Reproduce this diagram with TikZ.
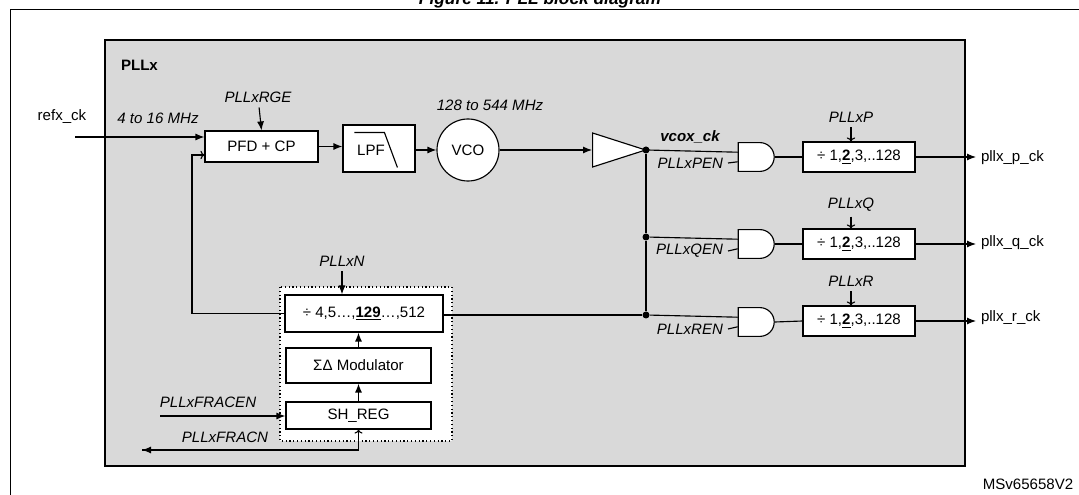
\documentclass[tikz,border=0pt]{standalone}
\usepackage{fontspec}
\setmainfont{Liberation Sans}
\usetikzlibrary{arrows.meta,shapes.geometric,shapes.gates.logic.US}
\newdimen\px \px=0.75pt
\begin{document}
\begin{tikzpicture}[x=0.75pt,y=-0.75pt,
line width=0.85pt,
font=\fontsize{11.3}{13}\selectfont,
blk/.style={draw,fill=white,inner sep=0pt},
lbl/.style={font=\fontsize{11.3}{13}\selectfont\itshape},
and/.style={and gate US,draw,fill=white,logic gate inputs=nn,minimum width=36\px,minimum height=28\px,inner sep=0pt},
dot/.style={circle,fill,inner sep=0pt,minimum size=7\px},
open/.style={-{To[length=3pt]}},
>={Latex[length=6.75pt,width=5.25pt]}
]
\useasboundingbox(0,0) rectangle (1079,495);
%% frames
\draw[line width=1\px](10,500)--(10,10)--(1090,10);
\node[font=\fontsize{13}{15}\selectfont\bfseries\itshape]at(540,0)(title){Figure 11. PLL block diagram};
\draw[line width=1.3\px,fill=black!15](105,40) rectangle (965,466);
\node[anchor=west,font=\fontsize{11.3}{13}\selectfont\bfseries]at(116,65)(pllx){PLLx};
%% reference side
\node[blk,minimum width=113\px,minimum height=31\px]at(261.5,146.5)(pfd){PFD + CP};
\node at(62,117)(refx){refx\_ck};
\coordinate(refin)at(75,137);
\draw[->](refin)--(pfd.west|-refin);
\node[lbl]at(158,118)(fin){4 to 16 MHz};
\node[lbl]at(258,97)(rge){PLLxRGE};
\draw[->](rge)--(pfd.north);
\node[blk,minimum width=72\px,minimum height=47\px]at(379,148.5)(lpf){};
\draw(lpf.west)+(12,-16)--+(42,-16)--+(55,19);
\node at(371,150){LPF};
\draw[->](pfd.east)--(lpf.west|-pfd.east);
\node[blk,circle,minimum size=62\px]at(468,150)(vco){VCO};
\draw[->](lpf.east|-vco)--(vco.west);
\node[lbl]at(490,105)(fvco){128 to 544 MHz};
\node[blk,isosceles triangle,isosceles triangle stretches,minimum width=34\px,minimum height=53\px]at(605,150)(buf){};
\draw[->](vco.east)--(buf.west);
\node[font=\fontsize{11.3}{13}\selectfont\bfseries\itshape]at(690,137)(vcox){vcox\_ck};
%% output gates and dividers
\node[and]at(755,157)(gp){};
\node[and]at(755,244)(gq){};
\node[and]at(755,322)(gr){};
\node[dot]at(646,150)(jp){};
\node[dot]at(646,237)(jq){};
\node[dot]at(646,315)(jr){};
\draw(buf.apex)--(jp)--(gp.input 1);
\draw(jp)--(jq)--(jr);
\draw(jq)--(gq.input 1);
\draw(jr)--(gr.input 1);
\node[lbl,anchor=east]at(728,163)(pen){PLLxPEN};
\node[lbl,anchor=east]at(728,251)(qen){PLLxQEN};
\node[lbl,anchor=east]at(728,329)(ren){PLLxREN};
\draw(pen.east)--(gp.input 2);
\draw(qen.east)--(gq.input 2);
\draw(ren.east)--(gr.input 2);
\node[blk,minimum width=112\px,minimum height=30\px]at(859,157)(dp){÷ 1,\underline{\textbf{2}},3,..128};
\node[blk,minimum width=112\px,minimum height=30\px]at(859,244)(dq){÷ 1,\underline{\textbf{2}},3,..128};
\node[blk,minimum width=112\px,minimum height=30\px]at(859,321)(dr){÷ 1,\underline{\textbf{2}},3,..128};
\node[lbl]at(851,117)(pp){PLLxP};
\node[lbl]at(851,205)(pq){PLLxQ};
\node[lbl]at(851,281)(pr){PLLxR};
\draw[open](pp)--(dp.north-|pp);
\draw[open](pq)--(dq.north-|pq);
\draw[open](pr)--(dr.north-|pr);
\draw(gp.output)--(dp.west);
\draw(gq.output)--(dq.west);
\draw(gr.output)--(dr.west);
\node[anchor=west]at(976,158)(op){pllx\_p\_ck};
\node[anchor=west]at(976,243)(oq){pllx\_q\_ck};
\node[anchor=west]at(976,318)(or){pllx\_r\_ck};
\draw[->](dp.east)--(op.west|-dp.east);
\draw[->](dq.east)--(oq.west|-dq.east);
\draw[->](dr.east)--(or.west|-dr.east);
%% feedback divider
\draw[dotted,fill=white](280,287) rectangle (452,441);
\node[blk,minimum width=158\px,minimum height=37\px]at(364,313.5)(ndiv){÷ 4,5…,\underline{\textbf{129}}…,512};
\node[blk,minimum width=145\px,minimum height=35\px]at(358.5,365.5)(sd){ΣΔ Modulator};
\node[blk,minimum width=145\px,minimum height=27\px]at(358.5,415.5)(sh){SH\_REG};
\node[lbl]at(342,261)(pn){PLLxN};
\draw[->](pn)--(ndiv.north-|pn);
\draw[->](sd.north)--(sd.north|-ndiv.south);
\draw[->](sh.north)--(sd.south);
\draw(jr)--(ndiv.east|-jr);
\coordinate(fbc)at(192,155);
\draw[open](ndiv.west)-|(fbc)--(pfd.west|-fbc);
\node[lbl]at(208,402)(fen){PLLxFRACEN};
\coordinate(fenin)at(160,416);
\draw[->](fenin)--(sh.west|-fenin);
\node[lbl]at(225,437)(fn){PLLxFRACN};
\coordinate(fnout)at(142,450);
\draw[{To[length=3pt,width=6pt]}-](sh.south)|-(fnout);
\draw[->](200,450)--(fnout);
\node at(1028,484)(ref){MSv65658V2};
\end{tikzpicture}
\end{document}
